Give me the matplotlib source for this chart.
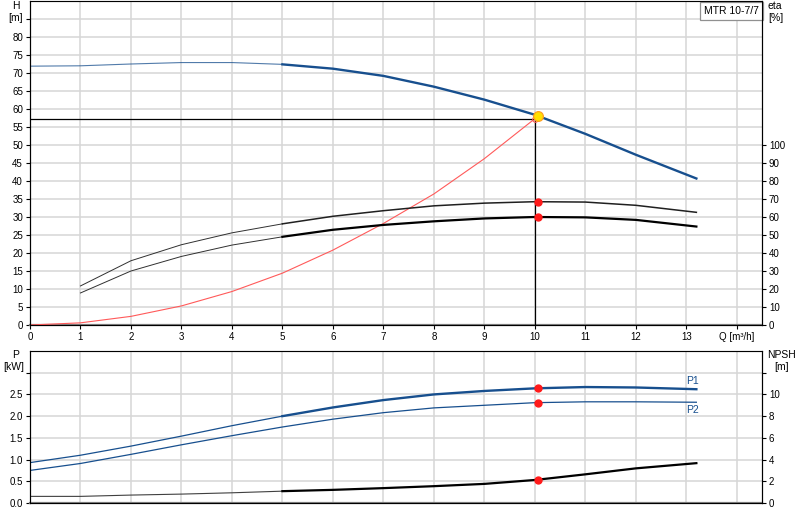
import matplotlib

matplotlib.use("Agg")
import matplotlib.pyplot as plt
import numpy as np

plt.rcParams["font.family"] = ["Liberation Sans", "DejaVu Sans"]

# pump curve data
q = [0, 1, 2, 3, 4, 5, 6, 7, 8, 9, 10, 11, 12, 13.2]
head = [71.9, 72.0, 72.5, 72.9, 72.9, 72.4, 71.2, 69.2, 66.2, 62.6, 58.4, 53.1, 47.3, 40.7]
q_eta = [1, 2, 3, 4, 5, 6, 7, 8, 9, 10, 11, 12, 13.2]
eta_total = [21.7, 35.7, 44.6, 51.2, 56.2, 60.4, 63.5, 66.2, 67.7, 68.5, 68.3, 66.5, 62.6]
eta_pump = [17.8, 30.0, 38.1, 44.4, 49.0, 52.9, 55.6, 57.6, 59.2, 60.0, 59.8, 58.4, 54.7]
q_sys = [0, 1, 2, 3, 4, 5, 6, 7, 8, 9, 10]
h_sys = [0, 0.6, 2.4, 5.3, 9.3, 14.4, 20.8, 28.2, 36.4, 46.2, 57.3]
p1 = [0.93, 1.10, 1.31, 1.54, 1.78, 2.00, 2.20, 2.37, 2.50, 2.58, 2.64, 2.67, 2.66, 2.62]
p2 = [0.75, 0.91, 1.12, 1.34, 1.55, 1.75, 1.93, 2.08, 2.19, 2.25, 2.31, 2.33, 2.33, 2.32]
npsh = [0.61, 0.61, 0.73, 0.82, 0.94, 1.09, 1.21, 1.37, 1.55, 1.76, 2.12, 2.64, 3.19, 3.67]

# duty point
q_req, h_req = 10.0, 57.3
q_op = 10.07
h_op, eta_total_op, eta_pump_op = 58.0, 68.6, 60.0
p1_op, p2_op, npsh_op = 2.64, 2.31, 2.16

x_ticks = list(range(0, 15))
x_labels = [str(t) for t in range(0, 14)] + ["Q [m³/h]"]

BLUE = "#174f8e"
GRID = "#d6d6d6"
W, H = 800, 520


def split(xs, ys, at=5):
    """Return (thin part, thick part) of a curve split at the recommended range start."""
    xs, ys = np.asarray(xs, float), np.asarray(ys, float)
    lo = xs <= at
    hi = xs >= at
    return (xs[lo], ys[lo]), (xs[hi], ys[hi])


def frame(ax, right):
    ax.set_facecolor("white")
    ax.spines["left"].set_color("black")
    ax.spines["left"].set_linewidth(0.8)
    ax.spines["top"].set_color("#a0a0a0")
    ax.spines["top"].set_linewidth(0.8)
    ax.spines["bottom"].set_color("#808080")
    ax.spines["bottom"].set_linewidth(1.6)
    right.spines["right"].set_color("black")
    right.spines["right"].set_linewidth(0.8)
    for a in (ax, right):
        a.tick_params(labelsize=7, length=3, width=0.8, pad=2)
    ax.set_xlim(0, 14.5)
    ax.set_xticks(x_ticks)
    ax.grid(True, color=GRID, linewidth=1.1)
    ax.set_axisbelow(True)


fig = plt.figure(figsize=(W / 100, H / 100), dpi=100)

# ---- upper panel: head + efficiency
ax = fig.add_axes([30 / W, 1 - 325 / H, 732 / W, 324 / H])
ax_eta = ax.twinx()
frame(ax, ax_eta)
ax.set_ylim(0, 90)
ax.set_yticks(np.arange(0, 90, 5))
ax.set_yticklabels([str(v) for v in range(0, 85, 5)] + [""])
ax.set_xticklabels(x_labels)
ax.tick_params(axis="x", length=3)
ax_eta.set_ylim(0, 180)
ax_eta.set_yticks(np.arange(0, 110, 10))

thin, thick = split(q, head)
ax.plot(*thin, color=BLUE, lw=0.8, alpha=0.75, zorder=3)
ax.plot(*thick, color=BLUE, lw=1.7, zorder=3)
ax.plot(q_sys, h_sys, color="#ff5a5a", lw=0.8, zorder=3)
ax.plot([0, q_req], [h_req, h_req], color="black", lw=0.9, zorder=3)
ax.plot([q_req, q_req], [0, h_req], color="black", lw=0.9, zorder=3)
ax.plot(q_req, h_req, "o", ms=4, mfc="none", mec="#ff5a5a", mew=0.8, zorder=4)
ax.plot(q_op, h_op, "o", ms=7, mfc="#ffe000", mec="#ffa020", mew=0.9, zorder=5)

thin, thick = split(q_eta, eta_total)
ax_eta.plot(*thin, color="#303030", lw=0.7)
ax_eta.plot(*thick, color="#202020", lw=1.1)
thin, thick = split(q_eta, eta_pump)
ax_eta.plot(*thin, color="#303030", lw=0.7)
ax_eta.plot(*thick, color="black", lw=1.6)
ax_eta.plot([q_op, q_op], [eta_total_op, eta_pump_op], "o", ms=5, color="#ff1a1a", ls="none")

ax.text(0.958, 0.969, "MTR 10-7/7", transform=ax.transAxes, fontsize=7.5,
        ha="center", va="center", zorder=6,
        bbox=dict(boxstyle="square,pad=0.4", fc="white", ec="#909090", lw=0.9))

# ---- lower panel: power + NPSH
bx = fig.add_axes([30 / W, 1 - 503 / H, 732 / W, 152 / H])
bx_npsh = bx.twinx()
frame(bx, bx_npsh)
bx.set_ylim(0, 3.5)
bx.set_yticks(np.arange(0, 3.5, 0.5))
bx.set_yticklabels(["0.0", "0.5", "1.0", "1.5", "2.0", "2.5", ""])
bx.set_xticklabels([])
bx.tick_params(axis="x", length=0)
bx_npsh.set_ylim(0, 14)
bx_npsh.set_yticks(np.arange(0, 14, 2))
bx_npsh.set_yticklabels(["0", "2", "4", "6", "8", "10", ""])

thin, thick = split(q, p1)
bx.plot(*thin, color=BLUE, lw=0.9)
bx.plot(*thick, color=BLUE, lw=1.7)
bx.plot(q, p2, color=BLUE, lw=0.9)
bx.plot([q_op, q_op], [p1_op, p2_op], "o", ms=5, color="#ff1a1a", ls="none", zorder=4)
bx.text(13.0, 2.82, "P1", color=BLUE, fontsize=7.5, ha="left", va="center")
bx.text(13.0, 2.15, "P2", color=BLUE, fontsize=7.5, ha="left", va="center")

thin, thick = split(q, npsh)
bx_npsh.plot(*thin, color="#404040", lw=0.8)
bx_npsh.plot(*thick, color="black", lw=1.6)
bx_npsh.plot(q_op, npsh_op, "o", ms=5, color="#ff1a1a")

# ---- axis captions
def label(x, y, s, ha="center"):
    fig.text(x / W, 1 - y / H, s, fontsize=7.5, ha=ha, va="center")


label(16, 6, "H")
label(16, 18, "[m]")
label(768, 6, "eta", ha="left")
label(768, 18, "[%]", ha="left")
label(16, 355, "P")
label(14, 367, "[kW]")
label(782, 355, "NPSH")
label(782, 367, "[m]")

fig.savefig("out.png", dpi=100)
